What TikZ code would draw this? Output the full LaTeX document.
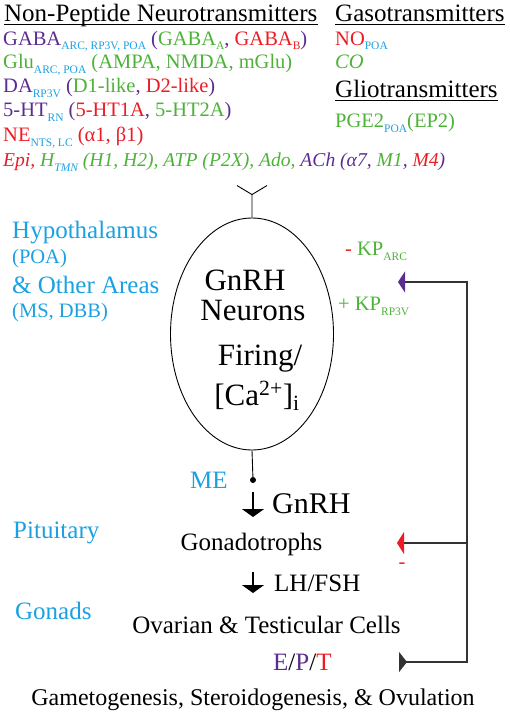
\documentclass[tikz,border=0pt]{standalone}
\usepackage{fontspec}
\setmainfont{Liberation Serif}
\usetikzlibrary{arrows.meta,shapes.geometric}

\definecolor{cpurple}{RGB}{92,45,145}
\definecolor{cgreen}{RGB}{77,178,56}
\definecolor{cred}{RGB}{237,28,36}
\definecolor{cblue}{RGB}{27,161,226}

\newcommand\headsize{\fontsize{25}{28}\selectfont}
\newcommand\rowsize{\fontsize{20.5}{23}\selectfont}
\newcommand\cellsize{\fontsize{31}{34}\selectfont}
\newcommand\lowtag[2][cblue]{\raisebox{-5pt}{\fontsize{11.5}{12}\selectfont\color{#1}#2}}
\newcommand\colP[1]{\textcolor{cpurple}{#1}}
\newcommand\colG[1]{\textcolor{cgreen}{#1}}
\newcommand\colR[1]{\textcolor{cred}{#1}}

\tikzset{
  txt/.style={inner sep=0pt, anchor=base west},
  ctxt/.style={inner sep=0pt, anchor=base},
  region/.style={txt, text=cblue, font=\headsize},
  down/.style={-{Triangle[width=22pt,length=8pt]}, line width=1.1pt},
  feedback/.style={line width=1.3pt, black!80},
}

\begin{document}
\begin{tikzpicture}[x=1pt,y=-1pt]
\useasboundingbox (0,0) rectangle (510,712);

% headings
\node[txt, font=\headsize] (nonpep) at (4,21) {Non-Peptide Neurotransmitters};
\node[txt, font=\headsize] (gaso) at (335,21) {Gasotransmitters};
\node[txt, font=\headsize] (glio) at (335,97) {Gliotransmitters};
\foreach \h in {nonpep,gaso,glio}
  \draw[line width=1pt] ([yshift=-3pt]\h.base west) -- ([yshift=-3pt]\h.base east);

% transmitter rows
\foreach \y/\row [count=\i] in {
  45/{\colP{GABA}\lowtag{ARC, RP3V, POA} \colP{(}\colG{GABA\lowtag[cgreen]{A}}\colP{,} \colR{GABA\lowtag[cred]{B}}\colP{)}},
  68/{\colG{Glu}\lowtag{ARC, POA} \colG{(AMPA, NMDA, mGlu)}},
  92/{\colP{DA}\lowtag{RP3V} \colP{(}\colG{D1-like}\colP{,} \colR{D2-like}\colP{)}},
  116/{\colP{5-HT}\lowtag{RN} \colP{(}\colR{5-HT1A}\colP{,} \colG{5-HT2A}\colP{)}},
  141/{\colR{NE}\lowtag{NTS, LC} \colR{(α1, β1)}},
  166/{\fontsize{19.6}{22}\selectfont\itshape\colR{Epi,} \colG{H}\lowtag{TMN} \colG{(H1, H2), ATP (P2X), Ado,} \colP{ACh (α7,} \colG{M1}\colP{,} \colR{M4}\colP{)}}}
  \node[txt, font=\rowsize] (row-\i) at (3,\y) {\row};

\node[txt, font=\rowsize] (no) at (335,45) {\colR{NO}\lowtag{POA}};
\node[txt, font=\rowsize\itshape] (co) at (335,68) {\colG{CO}};
\node[txt, font=\rowsize] (pge) at (335,127) {\colG{PGE2}\lowtag{POA}\colG{(EP2)}};

% regions
\node[region] (hypo) at (12,238) {Hypothalamus};
\node[region, font=\rowsize] (poa) at (12,263) {(POA)};
\node[region] (other) at (12,293) {\& Other Areas};
\node[region, font=\rowsize] (msdbb) at (12,317) {(MS, DBB)};
\node[region] (me) at (190,488) {ME};
\node[region] (pit) at (13,538) {Pituitary};
\node[region] (gon) at (15,619) {Gonads};

% neuron
\node[draw, ellipse, line width=0.9pt, minimum width=163pt, minimum height=232pt, inner sep=0pt] (gnrh) at (252,334) {};
\draw[line width=0.9pt] (gnrh.north) -- ++(0,-23) coordinate (fork) -- ++(-15,-9) (fork) -- ++(15,-9);
\node[ctxt, font=\cellsize] (c1) at (245,290) {GnRH};
\node[ctxt, font=\cellsize] (c2) at (253,320) {Neurons};
\node[ctxt, font=\cellsize] (c3) at (260,365) {Firing/};
\node[ctxt, font=\cellsize] (c4) at (257,405) {[Ca\textsuperscript{2+}]\textsubscript{i}};

\node[circle, fill, inner sep=0pt, minimum size=6pt] (dot) at (253,480) {};
\draw[line width=0.9pt] (gnrh.south) -- (dot);

% axis
\coordinate (gn-top) at (253,492);
\coordinate (gn-tip) at (253,517);
\coordinate (lh-top) at (253,572);
\coordinate (lh-tip) at (253,593);
\draw[down] (gn-top) -- (gn-tip);
\draw[down] (lh-top) -- (lh-tip);
\node[txt, font=\fontsize{30}{32}\selectfont] (hormone) at (272,513) {GnRH};
\node[ctxt, font=\headsize] (gona) at (251.5,550) {Gonadotrophs};
\node[txt, font=\headsize] (lhfsh) at (274,591) {LH/FSH};
\node[ctxt, font=\headsize] (cells) at (266.5,633) {Ovarian \& Testicular Cells};
\node[txt, font=\headsize] (ept) at (273,670) {\colP{E}/\colP{P}/\colR{T}};
\node[ctxt, font=\fontsize{24}{26}\selectfont] (outcome) at (253,705) {Gametogenesis, Steroidogenesis, \& Ovulation};

% feedback
\node[txt, font=\rowsize] (kparc) at (345,255) {\colR{-} \colG{KP}\lowtag[cgreen]{ARC}};
\node[txt, font=\rowsize] (kprp) at (338,310) {\colG{+ KP}\lowtag[cgreen]{RP3V}};
\coordinate (kp-in) at (398,282);
\coordinate (pit-in) at (397,543);
\coordinate (ept-out) at (399,662);
\coordinate (rail) at (467,282);
\draw[feedback, {Triangle[reversed,width=20pt,length=8pt]}-{Triangle[width=21pt,length=7pt,color=cpurple]}] (ept-out) -| (rail) -- (kp-in);
\draw[feedback, -{Triangle[width=22pt,length=7pt,color=cred]}] (rail |- pit-in) -- (pit-in);
\node[ctxt, font=\rowsize, text=cred] (minus) at (402,568) {-};
\end{tikzpicture}
\end{document}
